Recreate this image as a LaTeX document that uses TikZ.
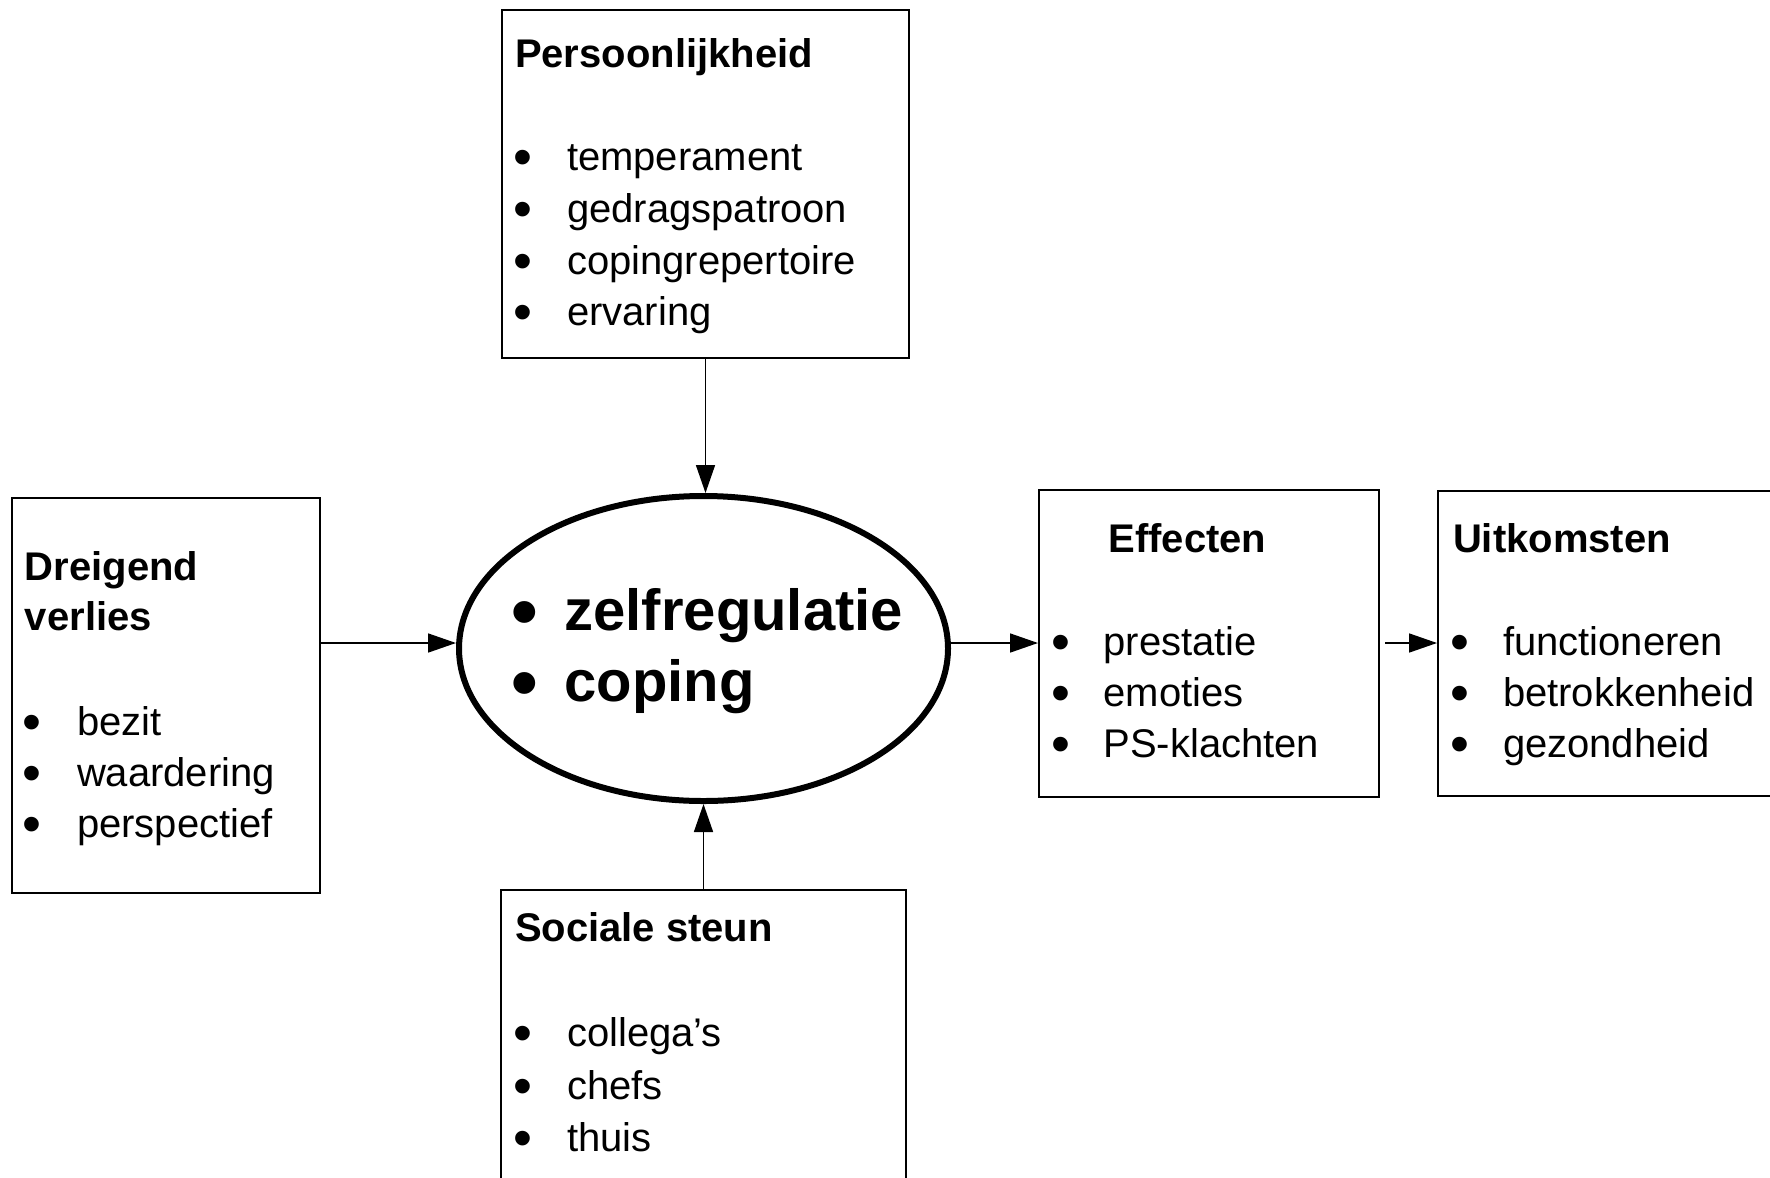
\documentclass[tikz,border=0pt]{standalone}
\usepackage{fontspec}
\setmainfont{Liberation Sans}
\usetikzlibrary{arrows.meta,shapes.geometric}
\begin{document}
\begin{tikzpicture}[x=0.5pt,y=-0.5pt,
  box/.style={draw, line width=1pt, rectangle, inner sep=0pt},
  txt/.style={anchor=base west, inner sep=0pt, outer sep=0pt,
              font=\fontsize{20pt}{24pt}\selectfont},
  head/.style={txt, font=\fontsize{20pt}{24pt}\selectfont\bfseries},
  bul/.style={txt, font=\fontsize{27pt}{30pt}\selectfont, yshift=-2.5pt, xshift=-1.5pt},
  big/.style={anchor=base west, inner sep=0pt, outer sep=0pt,
              font=\fontsize{29pt}{34pt}\selectfont\bfseries},
  bigbul/.style={big, font=\fontsize{38pt}{40pt}\selectfont\bfseries, yshift=-3.5pt, xshift=-2pt},
  arr/.style={-{Triangle[length=14pt,width=9.5pt]}, line width=0.8pt}]
\clip (0,0) rectangle (1770,1177);
\fill[white] (0,0) rectangle (1770,1177);

% frames
\node[box, minimum width=203.5pt, minimum height=174pt] (pers) at (705.5,184) {};
\node[box, minimum width=154pt, minimum height=197.5pt] (dv) at (166,695.5) {};
\node[box, minimum width=170pt, minimum height=153.5pt] (eff) at (1209,643.5) {};
\node[box, minimum width=181pt, minimum height=152.5pt] (uit) at (1619,643.5) {};
\node[box, minimum width=202.5pt, minimum height=155pt] (soc) at (703.5,1045) {};
\node[draw, ellipse, line width=3pt, inner sep=0pt,
      minimum width=244.5pt, minimum height=152.5pt] (ell) at (703.5,648.5) {};

% height of the horizontal flow line
\coordinate (flow) at (0,643);

% Persoonlijkheid
\node[head] (persH) at (515,68) {Persoonlijkheid};
\node[bul] (pb1) at (516,170) {•};   \node[txt] (pt1) at (567,170) {temperament};
\node[bul] (pb2) at (516,222.5) {•}; \node[txt] (pt2) at (567,222.5) {gedragspatroon};
\node[bul] (pb3) at (516,274.5) {•}; \node[txt] (pt3) at (567,274.5) {copingrepertoire};
\node[bul] (pb4) at (516,325.5) {•}; \node[txt] (pt4) at (567,325.5) {ervaring};

% Dreigend verlies
\node[head] (dvH1) at (25,580) {Dreigend};
\node[head] (dvH2) at (25,630) {verlies};
\node[bul] (db1) at (25,735) {•}; \node[txt] (dt1) at (77,735) {bezit};
\node[bul] (db2) at (25,786) {•}; \node[txt] (dt2) at (77,786) {waardering};
\node[bul] (db3) at (25,837) {•}; \node[txt] (dt3) at (77,837) {perspectief};

% zelfregulatie / coping
\node[bigbul] (eb1) at (515,630) {•}; \node[big] (et1) at (564.5,630) {zelfregulatie};
\node[bigbul] (eb2) at (515,701) {•}; \node[big] (et2) at (564.5,701) {coping};

% Effecten
\node[head] (effH) at (1108.5,552) {Effecten};
\node[bul] (fb1) at (1054,655) {•}; \node[txt] (ft1) at (1103.5,655) {prestatie};
\node[bul] (fb2) at (1054,706) {•}; \node[txt] (ft2) at (1103.5,706) {emoties};
\node[bul] (fb3) at (1054,757) {•}; \node[txt] (ft3) at (1103.5,757) {PS-klachten};

% Uitkomsten
\node[head] (uitH) at (1453,552) {Uitkomsten};
\node[bul] (ub1) at (1453,655) {•}; \node[txt] (ut1) at (1503,655) {functioneren};
\node[bul] (ub2) at (1453,706) {•}; \node[txt] (ut2) at (1503,706) {betrokkenheid};
\node[bul] (ub3) at (1453,757) {•}; \node[txt] (ut3) at (1503,757) {gezondheid};

% Sociale steun
\node[head] (socH) at (515,941.5) {Sociale steun};
\node[bul] (sb1) at (516,1046.5) {•}; \node[txt] (st1) at (567,1046.5) {collega’s};
\node[bul] (sb2) at (516,1099) {•};   \node[txt] (st2) at (567,1099) {chefs};
\node[bul] (sb3) at (516,1151.5) {•}; \node[txt] (st3) at (567,1151.5) {thuis};

% connectors
\draw[arr] (pers.south) -- (pers.south |- ell.north);
\draw[arr] (soc.north) -- (soc.north |- ell.south);
\draw[arr] (dv.east |- flow) -- (ell.west |- flow);
\draw[arr] (ell.east |- flow) -- (eff.west |- flow);
\draw[arr, shorten <=2.5pt] (eff.east |- flow) -- (uit.west |- flow);
\end{tikzpicture}
\end{document}
